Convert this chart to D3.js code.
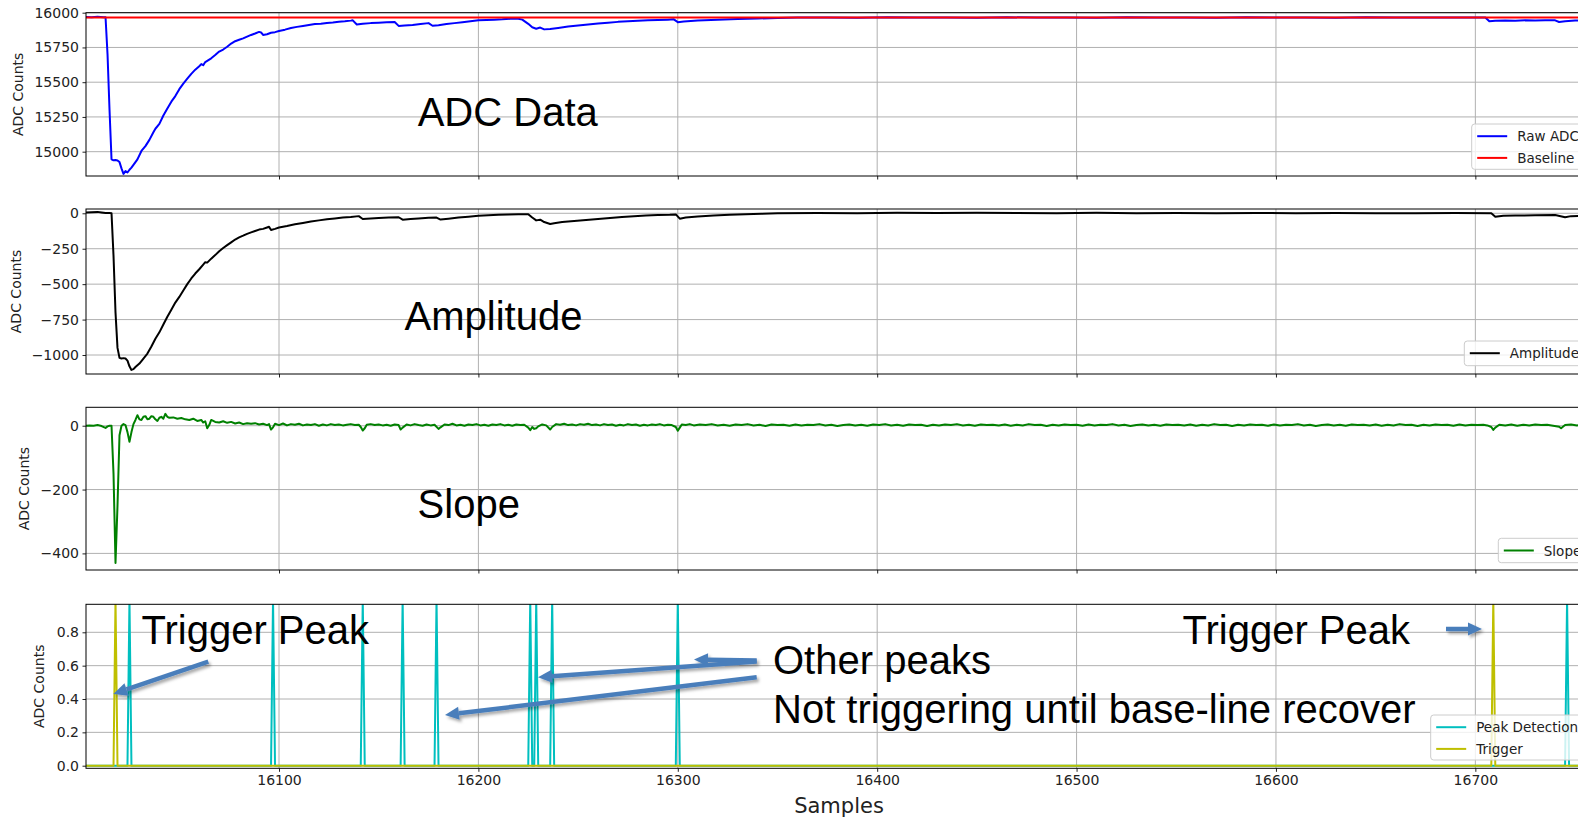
<!DOCTYPE html>
<html>
<head>
<meta charset="utf-8">
<script src="https://cdn.jsdelivr.net/npm/d3@7"></script>
<style>
  body { margin: 0; background: #fff; }
  svg { display: block; }
</style>
</head>
<body>
<script>
// sample axis
let xTicks = [16100, 16200, 16300, 16400, 16500, 16600, 16700]

// [sample, counts]
let rawAdc = [
  [16003,15970],[16006,15968],[16009,15970],[16012,15968],[16013,15967],[16014,15700],[16015,15300],[16016,14945],
  [16017,14938],[16018,14940],[16019,14937],[16020,14925],[16021,14880],[16022,14840],[16023,14860],[16024,14850],
  [16025,14870],[16026,14885],[16027,14905],[16029,14945],[16031,15005],[16033,15040],[16035,15085],[16037,15140],
  [16038,15165],[16040,15200],[16042,15260],[16044,15310],[16046,15360],[16048,15400],[16050,15450],[16052,15490],
  [16054,15525],[16056,15560],[16058,15590],[16060,15615],[16061,15630],[16062,15622],[16063,15645],[16066,15672],
  [16068,15695],[16070,15720],[16072,15735],[16074,15755],[16076,15778],[16078,15795],[16080,15805],[16082,15815],
  [16084,15828],[16086,15840],[16088,15850],[16090,15862],[16091,15858],[16092,15840],[16094,15845],[16096,15856],
  [16098,15860],[16100,15868],[16103,15878],[16106,15890],[16109,15898],[16112,15905],[16115,15912],[16118,15918],
  [16121,15920],[16124,15926],[16127,15930],[16130,15935],[16133,15938],[16136,15943],[16137,15945],[16139,15915],
  [16142,15920],[16146,15925],[16150,15928],[16154,15932],[16158,15933],[16160,15905],[16163,15908],[16167,15912],
  [16171,15918],[16175,15925],[16177,15906],[16180,15910],[16184,15918],[16188,15925],[16192,15932],[16196,15938],
  [16200,15945],[16204,15948],[16208,15950],[16212,15952],[16216,15956],[16220,15957],[16222,15950],[16225,15920],
  [16227,15895],[16229,15885],[16231,15893],[16233,15880],[16236,15883],[16240,15890],[16245,15900],[16250,15908],
  [16255,15915],[16260,15922],[16265,15928],[16270,15934],[16275,15938],[16280,15942],[16285,15946],[16290,15948],
  [16295,15950],[16298,15952],[16300,15932],[16303,15936],[16310,15943],[16320,15949],[16330,15954],[16340,15958],
  [16350,15962],[16360,15965],[16375,15966],[16390,15964],[16405,15967],[16420,15965],[16435,15966],[16450,15964],
  [16465,15967],[16480,15965],[16495,15966],[16510,15964],[16525,15967],[16540,15965],[16555,15966],[16570,15964],
  [16585,15967],[16600,15965],[16615,15966],[16630,15964],[16645,15967],[16660,15965],[16675,15966],[16690,15965],
  [16705,15966],[16707,15938],[16710,15942],[16715,15944],[16720,15942],[16725,15945],[16730,15944],[16735,15946],
  [16740,15945],[16742,15933],[16745,15938],[16750,15943],[16755,15945],[16760,15946]
]

let baseline = [[16003,15965],[16760,15965]]

let amplitude = [
  [16003,5],[16006,8],[16009,10],[16011,6],[16013,2],[16015,2],[16016,0],[16017,-300],[16018,-700],[16019,-950],
  [16020,-1020],[16021,-1025],[16022,-1022],[16023,-1025],[16024,-1040],[16025,-1080],[16026,-1105],[16027,-1100],
  [16028,-1085],[16030,-1060],[16032,-1025],[16034,-990],[16036,-940],[16038,-885],[16040,-840],[16042,-785],
  [16044,-730],[16046,-680],[16048,-630],[16050,-590],[16052,-545],[16054,-500],[16056,-460],[16058,-425],
  [16060,-395],[16062,-362],[16063,-345],[16064,-348],[16066,-320],[16068,-295],[16070,-268],[16072,-245],
  [16074,-225],[16076,-205],[16078,-185],[16080,-170],[16082,-158],[16084,-145],[16086,-135],[16088,-125],
  [16090,-115],[16092,-110],[16094,-100],[16095,-95],[16096,-118],[16098,-110],[16100,-100],[16104,-90],
  [16108,-78],[16112,-68],[16116,-58],[16120,-50],[16124,-42],[16128,-36],[16132,-30],[16136,-26],[16140,-20],
  [16142,-40],[16146,-36],[16150,-34],[16155,-30],[16160,-28],[16162,-45],[16166,-41],[16170,-37],[16175,-32],
  [16179,-30],[16181,-44],[16185,-38],[16190,-30],[16195,-24],[16200,-18],[16205,-14],[16210,-11],[16215,-9],
  [16220,-7],[16225,-6],[16227,-30],[16229,-50],[16231,-45],[16233,-62],[16236,-75],[16238,-70],[16242,-62],
  [16248,-55],[16254,-48],[16260,-40],[16266,-33],[16272,-26],[16278,-20],[16284,-15],[16290,-12],[16296,-10],
  [16299,-8],[16301,-38],[16304,-30],[16310,-22],[16318,-15],[16326,-10],[16334,-6],[16342,-3],[16350,0],
  [16370,2],[16390,0],[16410,3],[16430,2],[16450,4],[16470,2],[16490,1],[16510,3],[16530,1],[16550,2],
  [16570,0],[16590,2],[16610,1],[16630,2],[16650,0],[16670,1],[16690,2],[16708,0],[16710,-25],[16714,-18],
  [16720,-16],[16730,-14],[16740,-12],[16745,-28],[16748,-20],[16755,-18],[16760,-16]
]

let slope = [
  [16003,0],[16005,1],[16007,0],[16009,2],[16011,-1],[16013,-7],[16014,-2],[16015,0],[16016,0],[16017,-150],
  [16018,-430],[16019,-250],[16020,-30],[16021,0],[16022,5],[16023,2],[16024,-20],[16025,-50],[16026,-20],
  [16027,5],[16028,18],[16029,33],[16030,20],[16031,18],[16032,28],[16033,30],[16034,20],[16035,22],[16036,30],
  [16037,28],[16038,20],[16039,15],[16040,25],[16041,28],[16042,22],[16043,37],[16044,28],[16045,25],[16047,26],
  [16049,22],[16051,24],[16053,20],[16055,18],[16057,22],[16059,15],[16061,18],[16062,10],[16063,14],[16064,-8],
  [16065,2],[16066,18],[16068,12],[16070,10],[16072,14],[16074,9],[16076,12],[16078,7],[16080,10],[16082,5],
  [16084,8],[16086,6],[16088,8],[16090,4],[16092,6],[16094,2],[16095,5],[16096,-12],[16097,-5],[16098,6],
  [16100,2],[16102,7],[16104,1],[16106,5],[16108,3],[16110,6],[16112,1],[16114,4],[16116,2],[16118,5],[16120,0],
  [16122,4],[16124,1],[16126,5],[16128,2],[16130,4],[16132,1],[16134,3],[16136,5],[16138,2],[16140,3],[16141,-4],
  [16142,-15],[16143,-8],[16144,3],[16146,5],[16148,2],[16150,4],[16152,1],[16154,3],[16156,0],[16158,4],
  [16160,2],[16161,-12],[16162,-6],[16164,4],[16166,1],[16168,5],[16170,2],[16172,0],[16174,4],[16176,1],
  [16178,3],[16180,-10],[16181,-5],[16183,4],[16185,2],[16187,6],[16189,1],[16191,3],[16193,0],[16195,4],
  [16197,2],[16199,5],[16201,1],[16203,3],[16205,0],[16207,4],[16209,2],[16211,5],[16213,1],[16215,3],[16217,0],
  [16219,4],[16221,2],[16223,3],[16225,-6],[16226,-14],[16227,-4],[16228,-10],[16229,-8],[16230,-2],[16232,4],
  [16234,1],[16236,-12],[16237,-4],[16239,5],[16241,3],[16243,6],[16245,2],[16247,4],[16249,1],[16251,5],
  [16253,3],[16255,6],[16257,2],[16259,4],[16261,1],[16263,5],[16265,2],[16267,4],[16269,0],[16271,3],[16273,1],
  [16275,5],[16277,2],[16279,4],[16281,0],[16283,3],[16285,1],[16287,4],[16289,2],[16291,5],[16293,1],[16295,3],
  [16297,2],[16299,-4],[16300,-16],[16301,-6],[16302,4],[16304,2],[16306,5],[16308,1],[16311,4],[16314,2],
  [16317,5],[16320,1],[16323,3],[16326,0],[16329,4],[16332,2],[16335,5],[16338,1],[16341,3],[16344,-1],[16347,4],
  [16350,2],[16353,3],[16356,0],[16359,4],[16362,1],[16365,3],[16368,2],[16371,5],[16374,1],[16377,3],[16380,-1],
  [16383,2],[16386,4],[16389,1],[16392,3],[16395,0],[16398,4],[16401,2],[16404,5],[16407,1],[16410,3],[16413,0],
  [16416,4],[16419,2],[16422,3],[16425,-1],[16428,3],[16431,1],[16434,4],[16437,2],[16440,5],[16443,1],[16446,3],
  [16449,0],[16452,4],[16455,2],[16458,3],[16461,1],[16464,4],[16467,0],[16470,3],[16473,1],[16476,5],[16479,2],
  [16482,3],[16485,-1],[16488,3],[16491,1],[16494,4],[16497,2],[16500,3],[16503,0],[16506,4],[16509,1],[16512,3],
  [16515,2],[16518,5],[16521,1],[16524,3],[16527,-1],[16530,2],[16533,4],[16536,1],[16539,3],[16542,0],[16545,4],
  [16548,2],[16551,3],[16554,1],[16557,4],[16560,0],[16563,3],[16566,1],[16569,5],[16572,2],[16575,3],[16578,-1],
  [16581,3],[16584,1],[16587,4],[16590,2],[16593,3],[16596,0],[16599,4],[16602,1],[16605,3],[16608,2],[16611,5],
  [16614,1],[16617,3],[16620,-1],[16623,2],[16626,4],[16629,1],[16632,3],[16635,0],[16638,4],[16641,2],[16644,3],
  [16647,1],[16650,4],[16653,0],[16656,3],[16659,1],[16662,5],[16665,2],[16668,3],[16671,-1],[16674,3],[16677,1],
  [16680,4],[16683,2],[16686,3],[16689,0],[16692,4],[16695,1],[16698,3],[16701,2],[16704,3],[16706,1],[16708,-4],
  [16709,-13],[16710,-6],[16712,3],[16715,1],[16718,4],[16721,0],[16724,3],[16727,1],[16730,4],[16733,2],
  [16736,3],[16739,0],[16742,-3],[16743,-8],[16745,2],[16748,4],[16751,1],[16754,3],[16757,0],[16760,2]
]

// samples where the flags go to 1
let peakSamples = [16025, 16097, 16142, 16162, 16179, 16226, 16229, 16237, 16300, 16746]
let triggerSamples = [16018, 16709]
let firstSample = 16003
let lastSample = 16760

let minus = (d) => d < 0 ? '\u2212' + Math.abs(d) : '' + d

let panels = [
  { top: 12.7, bottom: 176, domain: [14825, 16000], ticks: [15000, 15250, 15500, 15750, 16000], fmt: minus, labelX: 17.5,
    series: [{ data: rawAdc, color: '#0000ff', name: 'Raw ADC' }, { data: baseline, color: '#ff0000', name: 'Baseline' }],
    legend: { x: 1471.7, y: 124, h: 45.3 } },
  { top: 209, bottom: 374, domain: [-1134, 30.3], ticks: [-1000, -750, -500, -250, 0], fmt: minus, labelX: 15.8,
    series: [{ data: amplitude, color: '#000000', name: 'Amplitude' }],
    legend: { x: 1464.3, y: 341, h: 24.7 } },
  { top: 407.3, bottom: 570, domain: [-452, 57.7], ticks: [-400, -200, 0], fmt: minus, labelX: 24,
    series: [{ data: slope, color: '#008000', name: 'Slope' }],
    legend: { x: 1498.3, y: 538.3, h: 24.4 } },
  { top: 604.3, bottom: 768.3, domain: [-0.0156, 0.968], ticks: [0, 0.2, 0.4, 0.6, 0.8], fmt: d3.format('.1f'), labelX: 39,
    series: [], legend: { x: 1430.7, y: 715, h: 45 } }
]

let flagSeries = (list) => d3.range(firstSample, lastSample + 1).map((s) => [s, list.includes(s) ? 1 : 0])
panels[3].series = [
  { data: flagSeries(peakSamples), color: '#00bfbf', name: 'Peak Detection' },
  { data: flagSeries(triggerSamples), color: '#bfbf00', name: 'Trigger' }
]

let width = 1578
let height = 818
let left = 86
let right = 1592

let svg = d3.select('body').append('svg').attr('width', width).attr('height', height)
let x = d3.scaleLinear().domain([16003.2, 16758.5]).range([left, right])

let tickFont = 'DejaVu Sans, sans-serif'

panels.forEach((p, i) => {
  let y = d3.scaleLinear().domain(p.domain).range([p.bottom, p.top])
  let g = svg.append('g')

  svg.append('clipPath').attr('id', 'clip' + i)
     .append('rect').attr('x', left).attr('y', p.top).attr('width', right - left).attr('height', p.bottom - p.top)

  // grid
  g.selectAll('.gx').data(xTicks).enter().append('line')
   .attr('x1', (d) => x(d)).attr('x2', (d) => x(d)).attr('y1', p.top).attr('y2', p.bottom)
   .attr('stroke', '#b0b0b0').attr('stroke-width', 1)
  g.selectAll('.gy').data(p.ticks).enter().append('line')
   .attr('x1', left).attr('x2', right).attr('y1', (d) => y(d)).attr('y2', (d) => y(d))
   .attr('stroke', '#b0b0b0').attr('stroke-width', 1)

  // lines
  let line = d3.line().x((d) => x(d[0])).y((d) => y(d[1]))
  let lg = g.append('g').attr('clip-path', 'url(#clip' + i + ')')
  p.series.forEach((s) => {
    lg.append('path').attr('d', line(s.data)).attr('fill', 'none')
      .attr('stroke', s.color).attr('stroke-width', 2).attr('stroke-linejoin', 'round')
  })

  // axes
  let ya = g.append('g').attr('transform', 'translate(' + left + ',0)')
            .call(d3.axisLeft(y).tickValues(p.ticks).tickFormat(p.fmt).tickSize(3.5).tickPadding(3.5))
  ya.select('.domain').remove()
  ya.selectAll('text').attr('font-family', tickFont).attr('font-size', 14).attr('fill', '#222')
  ya.selectAll('line').attr('stroke', '#222')

  let xa = g.append('g').attr('transform', 'translate(0,' + p.bottom + ')')
            .call(d3.axisBottom(x).tickValues(xTicks).tickSize(3.5).tickPadding(3.5).tickFormat(i === 3 ? d3.format('d') : ''))
  xa.select('.domain').remove()
  xa.selectAll('text').attr('font-family', tickFont).attr('font-size', 14).attr('fill', '#222')
  xa.selectAll('line').attr('stroke', '#222')

  g.append('rect').attr('x', left).attr('y', p.top).attr('width', right - left).attr('height', p.bottom - p.top)
   .attr('fill', 'none').attr('stroke', '#000').attr('stroke-width', 1)

  g.append('text').attr('transform', 'translate(' + p.labelX + ',' + (p.top + p.bottom) / 2 + ') rotate(-90)')
   .attr('text-anchor', 'middle').attr('dominant-baseline', 'central')
   .attr('font-family', tickFont).attr('font-size', 14).attr('fill', '#222').text('ADC Counts')

  // legend
  let lgd = g.append('g')
  lgd.append('rect').attr('x', p.legend.x).attr('y', p.legend.y).attr('width', 1585 - p.legend.x).attr('height', p.legend.h)
     .attr('rx', 3).attr('fill', 'rgba(255,255,255,0.8)').attr('stroke', '#cccccc').attr('stroke-width', 1)
  p.series.forEach((s, k) => {
    let cy = p.legend.y + 12.2 + k * 21.7
    lgd.append('line').attr('x1', p.legend.x + 5.5).attr('x2', p.legend.x + 35.5).attr('y1', cy).attr('y2', cy)
       .attr('stroke', s.color).attr('stroke-width', 2)
    lgd.append('text').attr('x', p.legend.x + 45.5).attr('y', cy).attr('dominant-baseline', 'central')
       .attr('font-family', tickFont).attr('font-size', 13.5).attr('fill', '#222').text(s.name)
  })
})

svg.append('text').attr('x', (left + right) / 2).attr('y', 813).attr('text-anchor', 'middle')
   .attr('font-family', tickFont).attr('font-size', 21).attr('fill', '#222').text('Samples')

// slide annotations
let notes = [
  { t: 'ADC Data', x: 417.7, y: 126.3 },
  { t: 'Amplitude', x: 404.6, y: 330 },
  { t: 'Slope', x: 417.6, y: 518 },
  { t: 'Trigger Peak', x: 141.5, y: 643.5 },
  { t: 'Other peaks', x: 773, y: 674 },
  { t: 'Not triggering until base-line recover', x: 773, y: 722.5 },
  { t: 'Trigger Peak', x: 1182.5, y: 643.5 }
]
svg.selectAll('.note').data(notes).enter().append('text')
   .attr('x', (d) => d.x).attr('y', (d) => d.y)
   .attr('font-family', 'Liberation Sans, Arial, sans-serif').attr('font-size', 40).attr('fill', '#000')
   .text((d) => d.t)

let defs = svg.append('defs')
defs.append('filter').attr('id', 'shadow').attr('x', '-20%').attr('y', '-50%').attr('width', '140%').attr('height', '200%')
    .append('feDropShadow').attr('dx', 2).attr('dy', 2.5).attr('stdDeviation', 1.5)
    .attr('flood-color', '#000').attr('flood-opacity', 0.35)

let arrows = [
  [208.3, 661.7, 113.3, 694],
  [756.7, 660.5, 694, 659.5],
  [756.7, 661.5, 538, 677.3],
  [756.7, 677.3, 445, 715],
  [1446, 629, 1482, 629]
]
let ag = svg.append('g').attr('filter', 'url(#shadow)')
arrows.forEach((a) => {
  let [x1, y1, x2, y2] = a
  let dx = x2 - x1, dy = y2 - y1
  let len = Math.sqrt(dx * dx + dy * dy)
  let ux = dx / len, uy = dy / len
  let hl = 14, hw = 6.5
  let bx = x2 - ux * hl, by = y2 - uy * hl
  ag.append('line').attr('x1', x1).attr('y1', y1).attr('x2', bx).attr('y2', by)
    .attr('stroke', '#4a7ebb').attr('stroke-width', 4.5)
  ag.append('polygon')
    .attr('points', [[x2, y2], [bx - uy * hw, by + ux * hw], [bx + uy * hw, by - ux * hw]].map((q) => q.join(',')).join(' '))
    .attr('fill', '#4a7ebb')
})
</script>
</body>
</html>
